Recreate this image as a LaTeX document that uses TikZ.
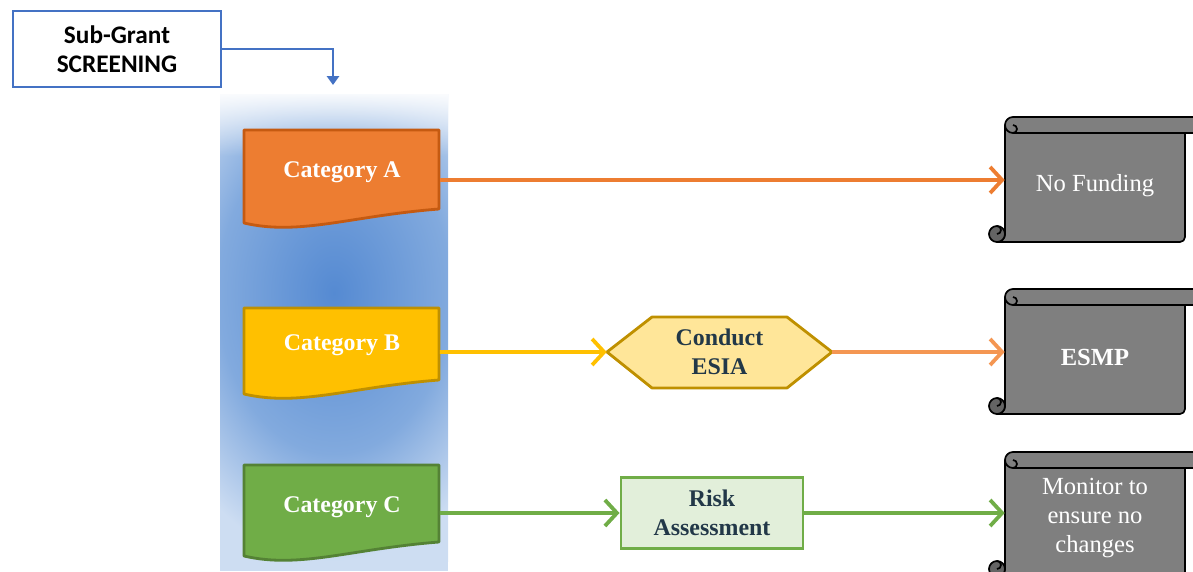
\documentclass[tikz,border=0pt]{standalone}
\usepackage{fontspec}
\setmainfont{Liberation Serif}
\newfontfamily\carlito{Carlito}
\usetikzlibrary{arrows.meta,fadings}
\definecolor{screenblue}{RGB}{68,114,196}
\definecolor{glowin}{RGB}{85,138,210}
\definecolor{glowmid}{RGB}{130,170,222}
\definecolor{glowout}{RGB}{205,221,242}
\definecolor{orangeA}{RGB}{237,125,49}
\definecolor{orangeAd}{RGB}{197,90,17}
\definecolor{jauneB}{RGB}{255,192,0}
\definecolor{jauneBd}{RGB}{191,144,0}
\definecolor{vertC}{RGB}{112,173,71}
\definecolor{vertCd}{RGB}{84,130,53}
\definecolor{hexfill}{RGB}{255,230,153}
\definecolor{riskfill}{RGB}{226,239,218}
\definecolor{orangeclair}{RGB}{244,150,82}
\definecolor{ardoise}{RGB}{34,56,72}
\definecolor{scrollgray}{RGB}{127,127,127}
\definecolor{curlgray}{RGB}{100,100,100}
\pgfdeclareradialshading{glow}{\pgfpoint{0bp}{0bp}}{color(0bp)=(glowin); color(15bp)=(glowmid); color(25bp)=(glowout); color(50bp)=(glowout)}
\tikzfading[name=fade down,top color=transparent!0,bottom color=transparent!100]

\begin{document}
\begin{tikzpicture}[x=0.25mm,y=0.25mm,
  catline/.style={line width=2pt,line join=round},
  catnode/.style={minimum width=48.75mm,minimum height=19mm,inner sep=0pt,text=white,font=\fontsize{17}{20.6}\selectfont\bfseries},
  stepnode/.style={inner sep=0pt,align=center,text=ardoise,font=\fontsize{17}{20.6}\selectfont\bfseries},
  scrolltext/.style={minimum width=45mm,minimum height=20mm,inner sep=0pt,align=center,text=white,font=\fontsize{17.5}{20.6}\selectfont},
  fleche/.style={line width=2.7pt,-{Straight Barb[length=3mm,width=6.5mm]}},
  scroll/.pic={
    \filldraw[line width=1.2pt,fill=scrollgray,draw=black,line join=round] (0,117) -- (0,8) arc[start angle=0,end angle=-90,radius=8] -- (175,0) arc[start angle=-90,end angle=0,radius=5] -- (180,109) -- (240,109) -- (240,125) -- (8,125) arc[start angle=90,end angle=180,radius=8] -- cycle;
    \draw[line width=1.2pt] (0,117) arc[start angle=180,end angle=270,radius=8] -- (180,109);
    \draw[line width=1.2pt] (8,109) arc[start angle=-90,end angle=90,radius=4];
    \filldraw[line width=1.2pt,fill=curlgray] (-8,8) circle[radius=8];
    \draw[line width=1.2pt] (-8,16) arc[start angle=90,end angle=-90,radius=4];
  }]%
\useasboundingbox (0,0) rectangle (1193,571);%%
\clip (0,0) rectangle (1193,571);%%
%%COLONNE
\begin{scope}
\clip (220,0) rectangle (448,476);%%
\fill[glowout] (220,0) rectangle (448,476);%%
\shade[shading=glow] (140,10) rectangle (528,546);%%
\fill[white,path fading=fade down] (214,482) rectangle (454,415);%%
\end{scope}
%%SCREENING
\node[draw=screenblue,line width=1.8pt,minimum width=52mm,minimum height=19mm,inner sep=0pt,align=center,font=\carlito\bfseries\fontsize{18}{20.6}\selectfont] (screen) at (117,522) {Sub-Grant\\SCREENING};%%
\coordinate (glowtop) at (333,486);%%
%%CATEGORIES
\filldraw[catline,fill=orangeA,draw=orangeAd] (244,441) -- (439,441) -- (439,362) .. controls (350,355) and (300,335) .. (244,348) -- cycle;%%
\node[catnode] (catA) at (342,399) {Category A};%%
\filldraw[catline,fill=jauneB,draw=jauneBd] (244,263) -- (439,263) -- (439,191) .. controls (350,184) and (300,164) .. (244,177) -- cycle;%%
\node[catnode] (catB) at (342,226) {Category B};%%
\filldraw[catline,fill=vertC,draw=vertCd] (244,106) -- (439,106) -- (439,29) .. controls (350,22) and (300,2) .. (244,15) -- cycle;%%
\node[catnode] (catC) at (342,64) {Category C};%%
%%ETAPES
\filldraw[catline,fill=hexfill,draw=jauneBd] (607,219) -- (652,254) -- (787,254) -- (832,219) -- (787,183) -- (652,183) -- cycle;%%
\node[stepnode,minimum width=56.25mm,minimum height=17.75mm] (esia) at (719.5,219) {Conduct\\ESIA};%%
\node[stepnode,draw=vertC,fill=riskfill,line width=2.1pt,minimum width=45.5mm,minimum height=17.8mm] (risk) at (712,58) {Risk\\Assessment};%%
%%ROULEAUX
\pic at (1005,329) {scroll};%%
\pic at (1005,157) {scroll};%%
\pic at (1005,-6) {scroll};%%
\node[scrolltext] (nofund) at (1095,385) {No Funding};%%
\node[scrolltext,font=\fontsize{17.5}{20.6}\selectfont\bfseries] (esmp) at (1095,214) {ESMP};%%
\node[scrolltext] (monitor) at (1095,53) {Monitor to\\ensure no\\changes};%%
%%FLECHES
\draw[draw=screenblue,line width=1.8pt,-{Triangle[length=2.2mm,width=3mm]}] (screen.east) -| (glowtop);%%
\draw[fleche,draw=orangeA] ([yshift=-2mm]catA.east) -- ([yshift=-2mm]catA.east -| nofund.west);%%
\draw[fleche,draw=jauneB] ([yshift=-1.75mm]catB.east) -- (esia.west);%%
\draw[fleche,draw=orangeclair] (esia.east) -- (esia.east -| esmp.west);%%
\draw[fleche,draw=vertC] ([yshift=-1.5mm]catC.east) -- (risk.west);%%
\draw[fleche,draw=vertC] (risk.east) -- (risk.east -| monitor.west);%%
\end{tikzpicture}
\end{document}
